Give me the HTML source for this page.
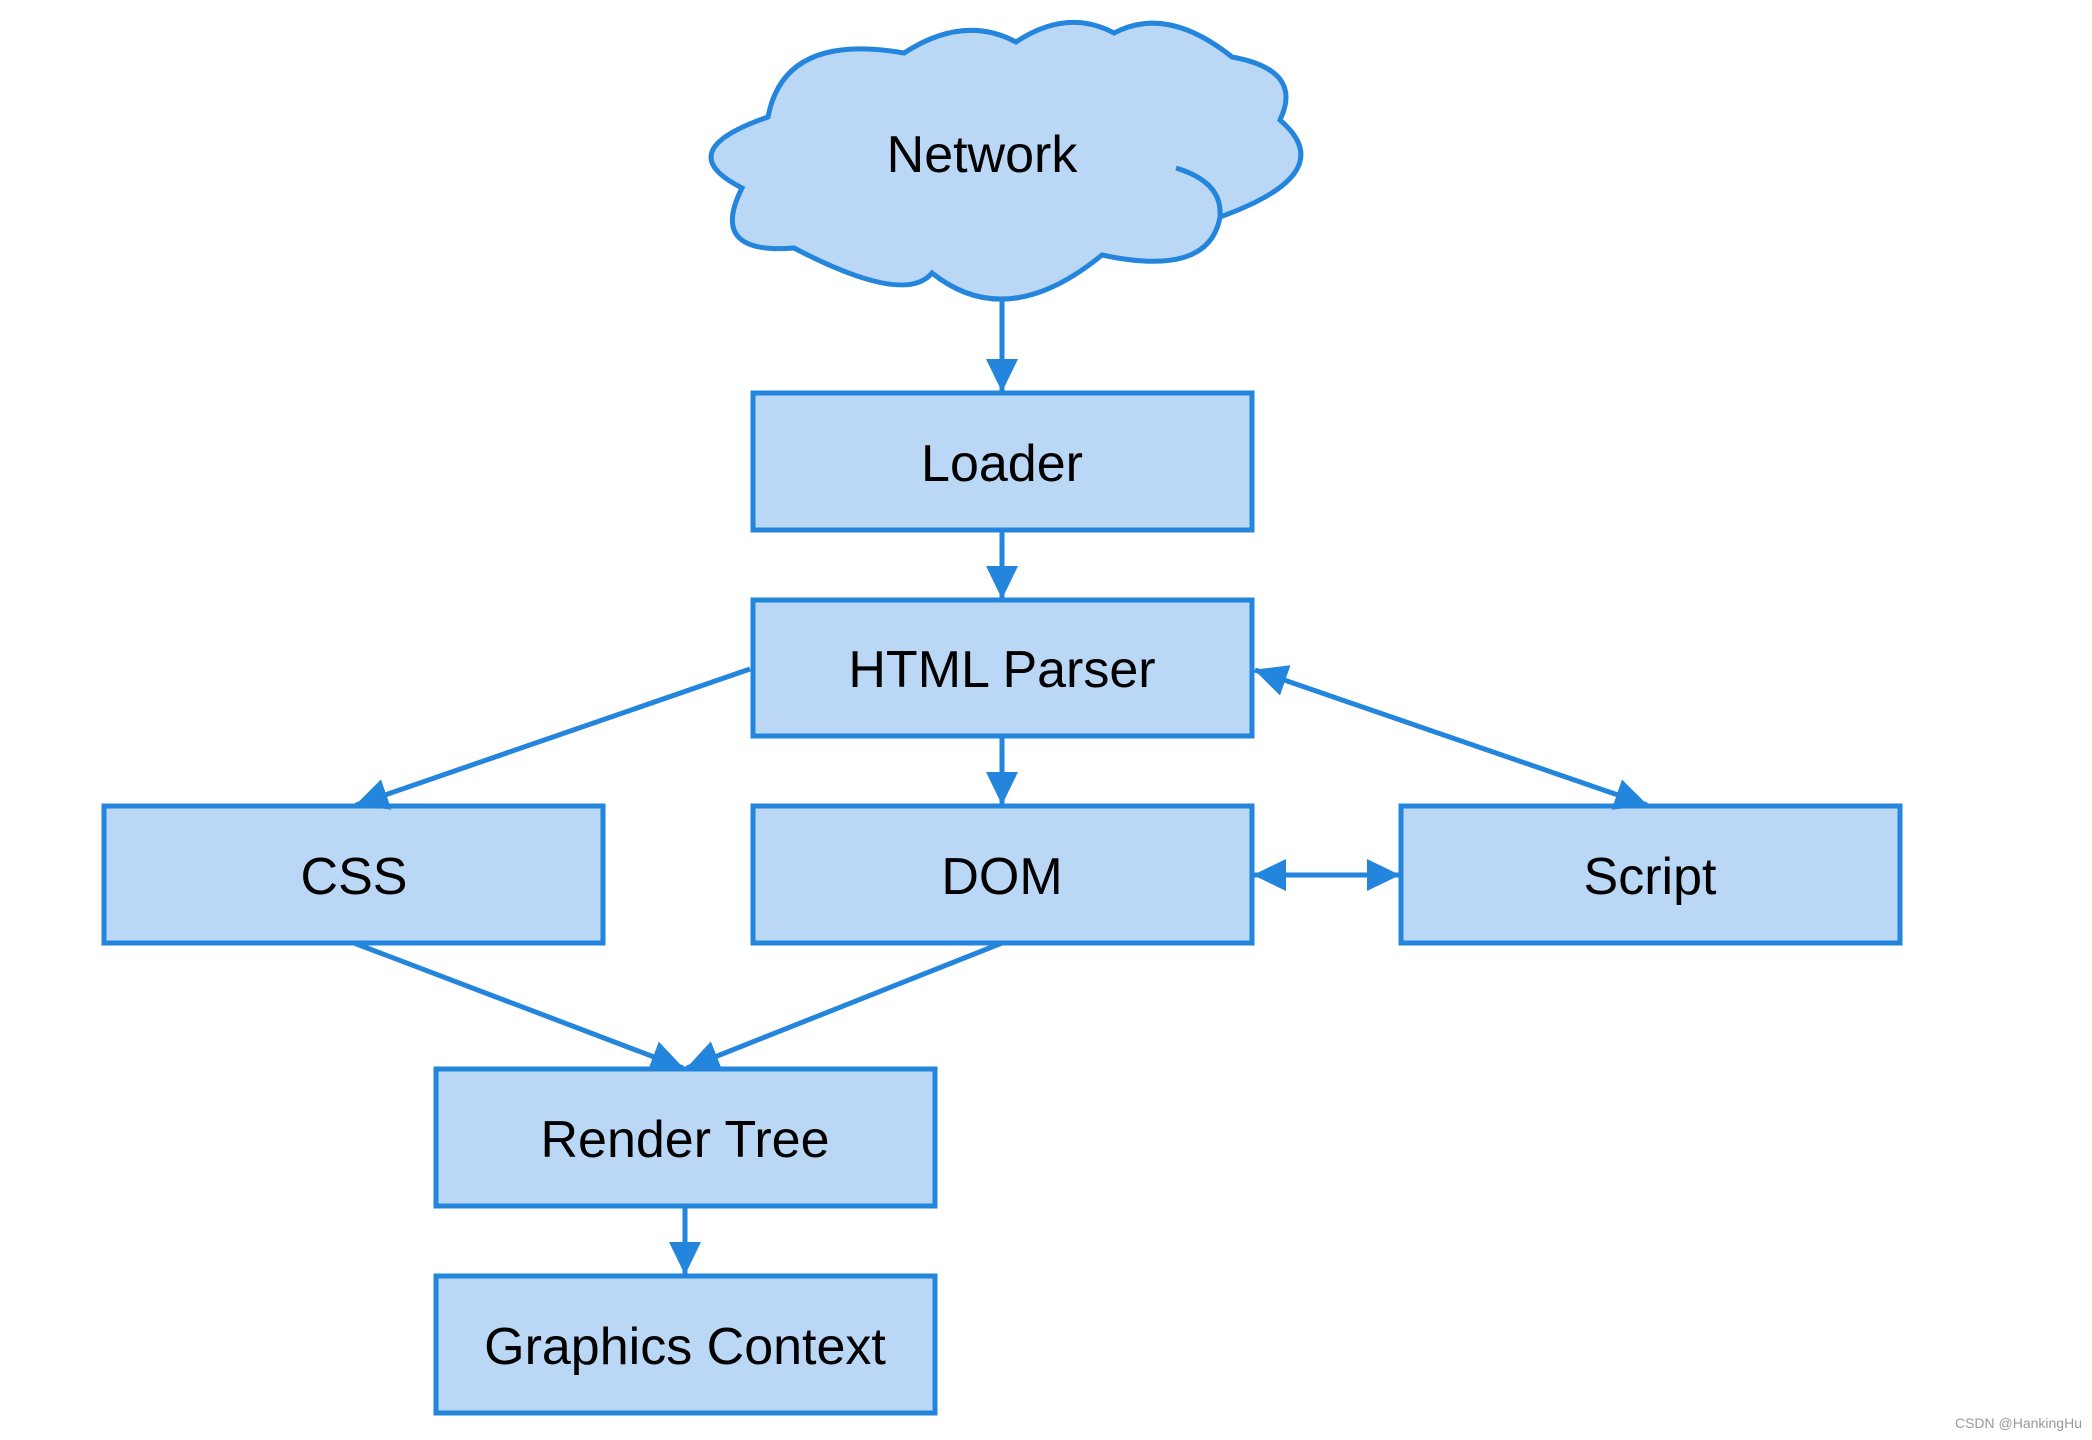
<!DOCTYPE html>
<html><head><meta charset="utf-8"><style>
html,body{margin:0;padding:0;background:#fff;}
svg{display:block;}
text{font-family:"Liberation Sans",Arial,sans-serif;fill:#000;}
</style></head><body>
<svg width="2092" height="1440" viewBox="0 0 2092 1440" xmlns="http://www.w3.org/2000/svg">
<defs>
<marker id="ah" markerWidth="34" markerHeight="34" refX="32" refY="17" orient="auto-start-reverse" markerUnits="userSpaceOnUse">
<path d="M0,1 L33,17 L0,33 Z" fill="#2385db"/>
</marker>
</defs>
<path fill="#bad7f5" stroke="#2385db" stroke-width="5" d="M768,117 Q669,151 742,188 Q708,255 794,248 Q905,306 932,273 Q1007,333 1102,255 Q1209,278 1220,217 Q1342,173 1280,120 Q1304,70 1232,57 Q1167,5 1114,33 Q1067,8 1016,42 Q964,14 904,53 Q784,32 768,117 Z"/>
<g fill="none" stroke="#2385db" stroke-width="5">
<path d="M1176,168 Q1222,182 1220,215"/>
</g>
<text x="982" y="172" font-size="52" text-anchor="middle">Network</text>

<g fill="#bad7f5" stroke="#2385db" stroke-width="5">
<rect x="753" y="393" width="499" height="137"/>
<rect x="753" y="600" width="499" height="136"/>
<rect x="104" y="806" width="499" height="137"/>
<rect x="753" y="806" width="499" height="137"/>
<rect x="1401" y="806" width="499" height="137"/>
<rect x="436" y="1069" width="499" height="137"/>
<rect x="436" y="1276" width="499" height="137"/>
</g>
<g font-size="52" text-anchor="middle">
<text x="1002" y="481">Loader</text>
<text x="1002" y="687">HTML Parser</text>
<text x="354" y="894">CSS</text>
<text x="1002" y="894">DOM</text>
<text x="1650" y="894">Script</text>
<text x="685" y="1157">Render Tree</text>
<text x="685" y="1364">Graphics Context</text>
</g>

<g stroke="#2385db" stroke-width="5" fill="none">
<line x1="1002" y1="300" x2="1002" y2="391" marker-end="url(#ah)"/>
<line x1="1002" y1="530" x2="1002" y2="598" marker-end="url(#ah)"/>
<line x1="1002" y1="736" x2="1002" y2="804" marker-end="url(#ah)"/>
<line x1="750" y1="669" x2="356" y2="805" marker-end="url(#ah)"/>
<line x1="1255" y1="670" x2="1647" y2="805" marker-start="url(#ah)" marker-end="url(#ah)"/>
<line x1="1254" y1="875" x2="1399" y2="875" marker-start="url(#ah)" marker-end="url(#ah)"/>
<line x1="354" y1="943" x2="683" y2="1068" marker-end="url(#ah)"/>
<line x1="1002" y1="943" x2="687" y2="1068" marker-end="url(#ah)"/>
<line x1="685" y1="1206" x2="685" y2="1274" marker-end="url(#ah)"/>
</g>
<text x="2082" y="1428" font-size="14" text-anchor="end" style="fill:#999">CSDN @HankingHu</text>
</svg>
</body></html>
